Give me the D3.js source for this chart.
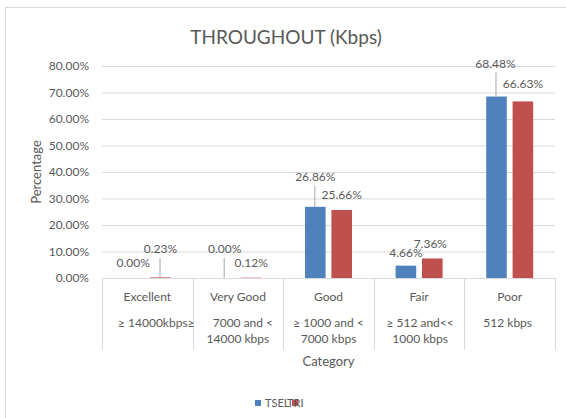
<!DOCTYPE html>
<html>
<head>
<meta charset="utf-8">
<script src="https://cdn.jsdelivr.net/npm/d3@7/dist/d3.min.js"></script>
<style>
  body { margin: 0; background: #fff; }
  svg { display: block; font-family: Lato, "Open Sans", sans-serif; }
  text { fill: #595959; }
</style>
</head>
<body>
<svg width="566" height="418"></svg>
<script>
// data
var categories = ["Excellent", "Very Good", "Good", "Fair", "Poor"];
var rangeLines = [["≥ 14000kbps≥"], ["7000 and <", "14000 kbps"], ["≥ 1000 and <", "7000 kbps"], ["≥ 512 and<<", "1000 kbps"], ["512 kbps"]];
var series = ["TSEL", "TRI"];
var tselValues = [0.0000, 0.0000, 0.2686, 0.0466, 0.6848];
var triValues = [0.0023, 0.0012, 0.2566, 0.0736, 0.6663];
var yTicks = [0, 0.1, 0.2, 0.3, 0.4, 0.5, 0.6, 0.7, 0.8];

var colors = {TSEL: "#4f81bd", TRI: "#c0504d"};

var svg = d3.select("svg");

// chart frame (only left/top edges show in the reference)
svg.append("rect")
    .attr("x", 5.5).attr("y", 7.5)
    .attr("width", 600).attr("height", 450)
    .attr("fill", "none")
    .attr("stroke", "#d9d9d9");

var plot = {l: 102, r: 555, t: 66, b: 278};

var x0 = d3.scaleBand()
    .domain(categories)
    .range([plot.l, plot.r]);

var groupW = 47;
var x1 = d3.scaleBand()
    .domain(series)
    .range([0, groupW])
    .paddingInner(0.22);

var y = d3.scaleLinear()
    .domain([0, 0.8])
    .range([plot.b, plot.t]);

// gridlines + y labels
var yAxis = d3.axisLeft(y)
    .tickValues(yTicks)
    .tickSize(-(plot.r - plot.l))
    .tickPadding(13)
    .tickFormat(d3.format(".2%"));

var gy = svg.append("g")
    .attr("transform", "translate(" + plot.l + ",0)")
    .call(yAxis);
gy.select(".domain").remove();
gy.selectAll(".tick line").attr("stroke", "#d9d9d9");
gy.selectAll(".tick text")
    .attr("font-size", "12px")
    .attr("fill", "#595959")
    .attr("font-family", "Lato, sans-serif");

// category table lines under the axis
var bounds = categories.map(function(c) { return x0(c); }).concat([plot.r]);
svg.selectAll(".catline")
    .data(bounds)
    .enter()
    .append("line")
    .attr("class", "catline")
    .attr("x1", function(d) { return Math.round(d) + 0.5; })
    .attr("x2", function(d) { return Math.round(d) + 0.5; })
    .attr("y1", plot.b)
    .attr("y2", 350)
    .attr("stroke", "#d9d9d9");

// rows of bars
var rows = [];
categories.forEach(function(c, i) {
    rows.push({cat: c, s: "TSEL", v: tselValues[i]});
    rows.push({cat: c, s: "TRI", v: triValues[i]});
});

var groupOff = (x0.bandwidth() - groupW) / 2;
function barX(d) { return x0(d.cat) + groupOff + x1(d.s); }

svg.selectAll(".bar")
    .data(rows)
    .enter()
    .append("rect")
    .attr("class", "bar")
    .attr("x", barX)
    .attr("y", function(d) { return y(d.v); })
    .attr("width", x1.bandwidth())
    .attr("height", function(d) { return plot.b - y(d.v); })
    .attr("fill", function(d) { return colors[d.s]; });

// data label placement (px offsets from bar top centre), leader = line to bar
var labelPos = [
    {dx: -1, dy: -15, leader: false}, {dx: 0, dy: -28, leader: true},
    {dx: 0, dy: -29, leader: true}, {dx: 0, dy: -15, leader: false},
    {dx: 0, dy: -30, leader: true}, {dx: 0, dy: -15, leader: false},
    {dx: 0, dy: -13, leader: false}, {dx: -2, dy: -14, leader: false},
    {dx: -1, dy: -33, leader: true}, {dx: 0, dy: -17, leader: false}
];

var fmt = d3.format(".2%");
rows.forEach(function(d, i) {
    var cx = barX(d) + x1.bandwidth() / 2;
    var top = y(d.v);
    var p = labelPos[i];
    if (p.leader) {
        svg.append("line")
            .attr("x1", cx - 0.5).attr("x2", cx - 0.5)
            .attr("y1", top + p.dy + 9)
            .attr("y2", top)
            .attr("stroke", "#a6a6a6")
            .attr("stroke-width", 1);
    }
    svg.append("text")
        .attr("x", cx + p.dx)
        .attr("y", top + p.dy + 4)
        .attr("text-anchor", "middle")
        .attr("font-size", "12px")
        .text(fmt(d.v));
});

// category names and range text
var nameDx = [0, 0, 0, 0, 0];
var lineDx = [[9], [5, 0], [0, 0], [1, 1], [-2]];
categories.forEach(function(c, i) {
    var cx = x0(c) + x0.bandwidth() / 2;
    svg.append("text")
        .attr("x", cx + nameDx[i])
        .attr("y", 301)
        .attr("text-anchor", "middle")
        .attr("font-size", "12px")
        .text(c);
    rangeLines[i].forEach(function(line, j) {
        svg.append("text")
            .attr("x", cx + lineDx[i][j])
            .attr("y", 327 + j * 16)
            .attr("text-anchor", "middle")
            .attr("font-size", "12px")
            .text(line);
    });
});

// axis titles
svg.append("text")
    .attr("x", (plot.l + plot.r) / 2)
    .attr("y", 366)
    .attr("text-anchor", "middle")
    .attr("font-size", "13px")
    .text("Category");

svg.append("text")
    .attr("transform", "translate(41," + ((plot.t + plot.b) / 2) + ") rotate(-90)")
    .attr("text-anchor", "middle")
    .attr("font-size", "13px")
    .text("Percentage");

// title
svg.append("text")
    .attr("x", 286)
    .attr("y", 44)
    .attr("text-anchor", "middle")
    .attr("font-size", "19px")
    .text("THROUGHOUT (Kbps)");

// legend (entries overlap as in the reference)
var legend = svg.append("g").attr("transform", "translate(255,400)");
var legX = [0, 37];
var legTextX = [10, 32];
series.forEach(function(s, i) {
    legend.append("rect")
        .attr("x", legX[i]).attr("y", 0)
        .attr("width", 6).attr("height", 6)
        .attr("fill", colors[s]);
    legend.append("text")
        .attr("x", legTextX[i])
        .attr("y", 7)
        .attr("font-size", "11px")
        .text(s);
});
</script>
</body>
</html>
